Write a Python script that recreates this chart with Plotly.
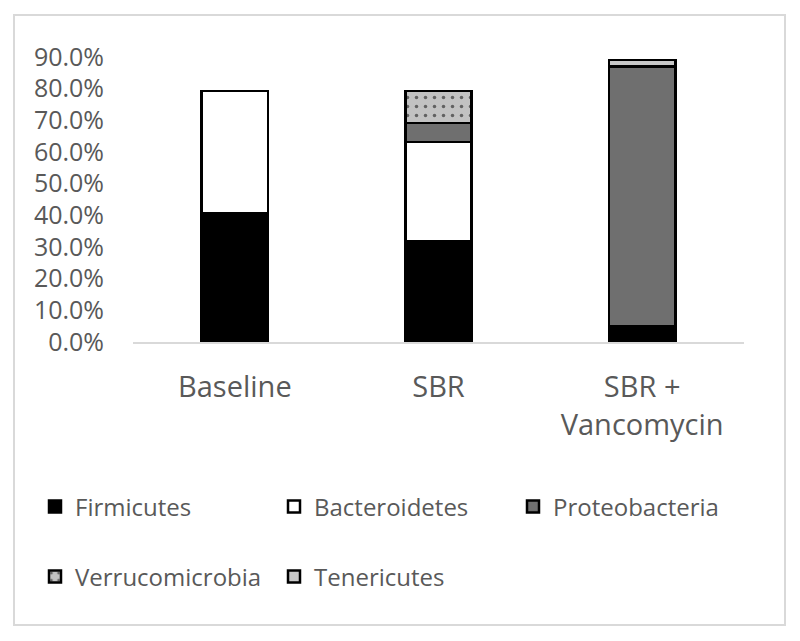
import plotly.graph_objects as go

categories = ["Baseline", "SBR", "SBR +<br>Vancomycin"]
firmicutes = [0.408, 0.319, 0.050]
bacteroidetes = [0.385, 0.313, None]
proteobacteria = [None, 0.060, 0.820]
verrucomicrobia = [None, 0.101, None]
tenericutes = [None, None, 0.020]
y_ticks = [0.0, 0.1, 0.2, 0.3, 0.4, 0.5, 0.6, 0.7, 0.8, 0.9]

OFF = 8  # page body margin
W, H = 800 - OFF, 641 - OFF
# plot area in screen pixels
PL, PR, PT, PB = 133, 744, 57, 342
ML, MT = PL - OFF, PT - OFF
MR, MB = W - (PR - OFF), H - (PB - OFF)
FONT = "Open Sans"
TXT = "#595959"

series = [
    ("Firmicutes", firmicutes, "#000000", None, "legend", 47, 507),
    ("Bacteroidetes", bacteroidetes, "#ffffff", None, "legend2", 286, 507),
    ("Proteobacteria", proteobacteria, "#6f6f6f", None, "legend3", 525, 507),
    ("Verrucomicrobia", verrucomicrobia, "#c2c2c2", ".", "legend4", 47, 577),
    ("Tenericutes", tenericutes, "#c8c8c8", None, "legend5", 286, 577),
]

fig = go.Figure()
legends = {}
for name, vals, color, pat, leg, lx, ly in series:
    marker = dict(color=color, line=dict(color="#000000", width=2.5))
    if pat:
        marker["pattern"] = dict(shape=".", bgcolor=color, fgcolor="#000000",
                                 size=9, solidity=0.12, fillmode="overlay")
    fig.add_trace(go.Bar(x=categories, y=vals, name=name, marker=marker,
                         width=0.326, legend=leg, showlegend=True))
    legends[leg] = dict(orientation="h", xref="container", yref="container",
                        xanchor="left", yanchor="middle",
                        x=(lx - 12 - OFF) / W, y=1 - (ly - OFF) / H,
                        font=dict(family=FONT, size=24, color=TXT),
                        bgcolor="rgba(0,0,0,0)", visible=True)

pw = W - ML - MR
ph = H - MT - MB

def px_x(x):
    return (x - OFF - ML) / pw

def px_y(y):
    return (H - MB - (y - OFF)) / ph

fig.add_shape(type="rect", xref="paper", yref="paper",
              x0=px_x(14), x1=px_x(785), y0=px_y(15), y1=px_y(625),
              line=dict(color="#d9d9d9", width=2), fillcolor="rgba(0,0,0,0)",
              layer="below")

fig.update_layout(
    width=W, height=H,
    margin=dict(l=ML, r=MR, t=MT, b=MB),
    paper_bgcolor="white", plot_bgcolor="white",
    barmode="stack",
    showlegend=True,
    font=dict(family=FONT, color=TXT),
    xaxis=dict(type="category", range=[-0.5, 2.5], showline=True,
               linecolor="#d9d9d9", linewidth=2, ticks="", showgrid=False,
               tickfont=dict(family=FONT, size=29, color=TXT),
               ticklabelstandoff=18),
    yaxis=dict(range=[0, 0.9], tickvals=y_ticks, tickformat=".1%",
               showgrid=False, showline=False, zeroline=False, ticks="",
               tickfont=dict(family=FONT, size=25, color=TXT),
               ticklabelstandoff=28),
    **legends,
)

fig.write_html("out.html")
